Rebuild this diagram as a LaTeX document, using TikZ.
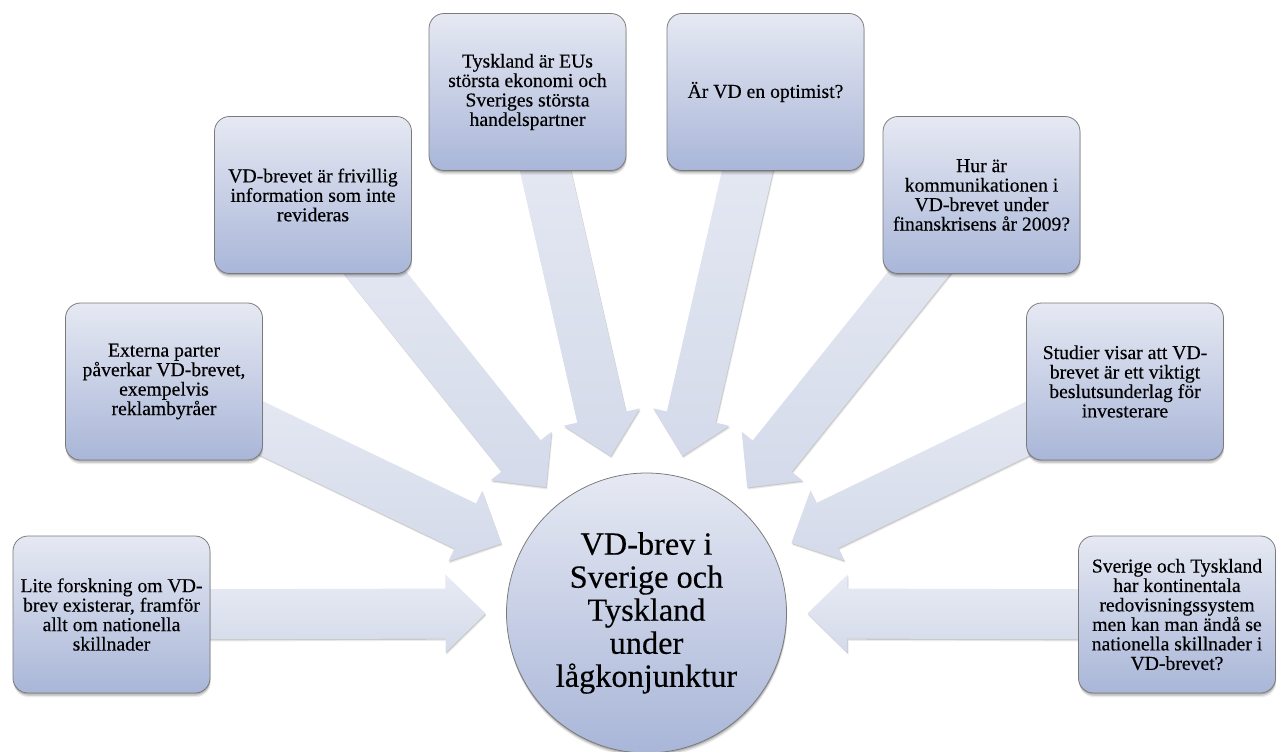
\documentclass[tikz,border=0pt]{standalone}
\usepackage{fontspec}
\setmainfont{Liberation Serif}[UprightFeatures={FakeBold=0.3}]
\usetikzlibrary{calc,shadows,backgrounds}
\definecolor{boxtop}{HTML}{E6E9F3}
\definecolor{boxbot}{HTML}{A9B6D8}
\definecolor{edgegray}{HTML}{7A7A7A}
\definecolor{arrtop}{HTML}{E8EBF4}
\definecolor{arrbot}{HTML}{D4DAEA}
\newcommand\boxfont{\fontsize{28}{27.7}\selectfont\lineskiplimit=-100pt\relax}
\newcommand\hubfont{\fontsize{46}{47}\selectfont\lineskiplimit=-100pt\relax}
\tikzset{
  softshadow/.style={
    drop shadow={shadow xshift=0.3pt, shadow yshift=-2pt, opacity=0.16, fill=black},
    drop shadow={shadow xshift=0.6pt, shadow yshift=-4pt, opacity=0.12, fill=black},
    drop shadow={shadow xshift=0.9pt, shadow yshift=-6pt, opacity=0.08, fill=black}},
  infobox/.style={rectangle, rounded corners=0.75cm, draw=edgegray, line width=1.1pt,
    top color=boxtop, bottom color=boxbot, minimum width=9.85cm, minimum height=7.85cm,
    align=center, font=\boxfont, text=black, inner sep=0pt, softshadow},
  hub/.style={circle, draw=edgegray, line width=1.1pt, top color=boxtop, bottom color=boxbot,
    minimum size=14cm, align=center, font=\hubfont, text=black, inner sep=0pt, softshadow},
  convarrow/.style={top color=arrtop, bottom color=arrbot,
    drop shadow={shadow xshift=0.8pt, shadow yshift=-1.6pt, opacity=0.14, fill=black},
    drop shadow={shadow xshift=1.6pt, shadow yshift=-3.2pt, opacity=0.08, fill=black}}
}
\newcommand\convarr[1]{%
  \coordinate (#1h) at ($(c)!10.05cm!(#1)$);
  \path[convarrow] ($(c)!8.05cm!(#1)$) -- ($(#1h)!1.95cm!90:(#1)$) -- ($(#1h)!1.25cm!90:(#1)$)
    -- ($(#1)!1.25cm!-90:(c)$) -- ($(#1)!1.25cm!90:(c)$) -- ($(#1h)!1.25cm!-90:(#1)$)
    -- ($(#1h)!1.95cm!-90:(#1)$) -- cycle;
}
\begin{document}
\begin{tikzpicture}[x=0.05cm, y=-0.05cm]
\useasboundingbox (0,0) rectangle (1288,751);
\node[hub] (c) at (646.5,613) {VD-brev i\\Sverige och\\Tyskland\\under\\lågkonjunktur};
\node[infobox] (b1) at (111.5,614.5) {Lite forskning om VD-\\brev existerar, framför\\allt om nationella\\skillnader};
\node[infobox] (b2) at (164,381.5) {Externa parter\\påverkar VD-brevet,\\exempelvis\\reklambyråer};
\node[infobox] (b3) at (313,195) {VD-brevet är frivillig\\information som inte\\revideras};
\node[infobox] (b4) at (527.5,92) {Tyskland är EUs\\största ekonomi och\\Sveriges största\\handelspartner};
\node[infobox] (b5) at (765.5,92) {Är VD en optimist?};
\node[infobox] (b6) at (981.5,195) {Hur är\\kommunikationen i\\VD-brevet under\\finanskrisens år 2009?};
\node[infobox] (b7) at (1125,381.5) {Studier visar att VD-\\brevet är ett viktigt\\beslutsunderlag för\\investerare};
\node[infobox] (b8) at (1177,614.5) {Sverige och Tyskland\\har kontinentala\\redovisningssystem\\men kan man ändå se\\nationella skillnader i\\VD-brevet?};
\begin{scope}[on background layer]
  \fill[white] (0,0) rectangle (1288,751);
  \convarr{b1}\convarr{b2}\convarr{b3}\convarr{b4}
  \convarr{b5}\convarr{b6}\convarr{b7}\convarr{b8}
\end{scope}
\end{tikzpicture}
\end{document}
